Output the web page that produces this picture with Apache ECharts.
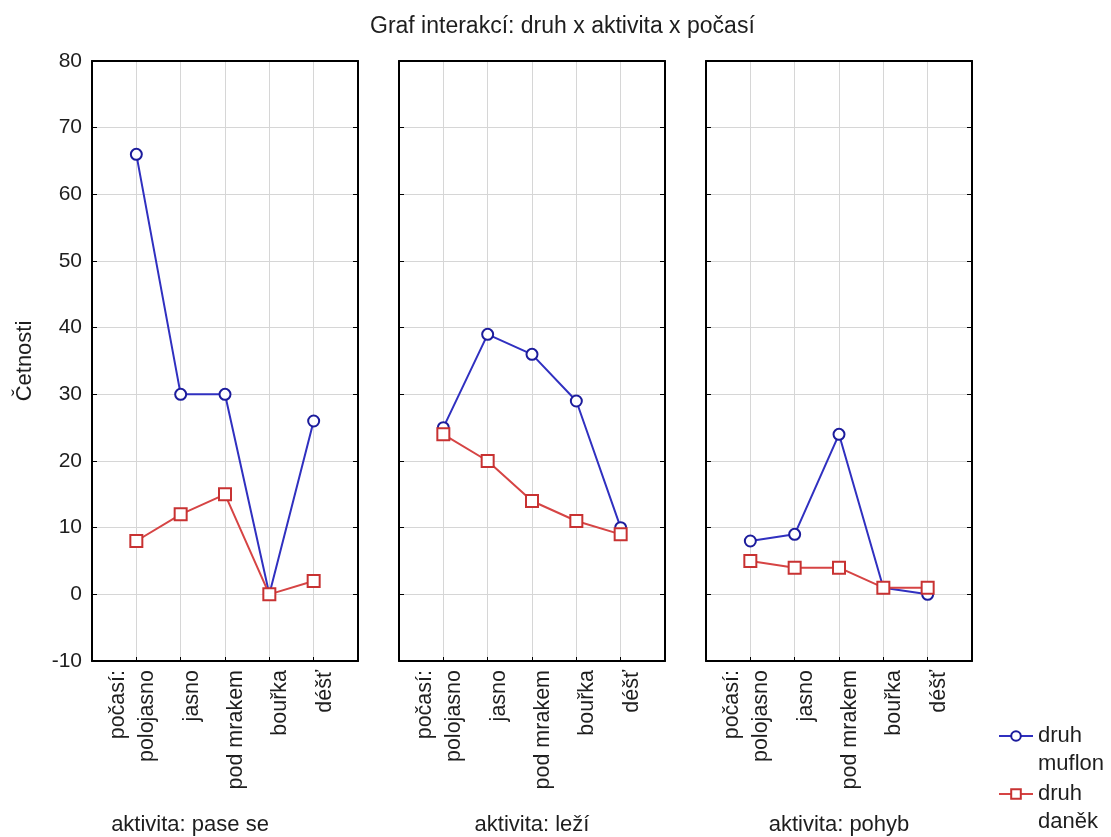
<!DOCTYPE html>
<html>
<head>
<meta charset="utf-8">
<script src="https://cdn.jsdelivr.net/npm/echarts@6/dist/echarts.min.js"></script>
<style>html,body{margin:0;padding:0;background:#fff}#c{width:1111px;height:837px}</style>
</head>
<body>
<div id="c"></div>
<script>
// ---- data ----
const weather = ['polojasno', 'jasno', 'pod mrakem', 'bouřka', 'déšť'];
const activities = ['aktivita: pase se', 'aktivita: leží', 'aktivita: pohyb'];
const speciesNames = ['druh muflon', 'druh daněk'];
const muflonPaseSe = [66, 30, 30, 0, 26];
const danekPaseSe = [8, 12, 15, 0, 2];
const muflonLezi = [25, 39, 36, 29, 10];
const danekLezi = [24, 20, 14, 11, 9];
const muflonPohyb = [8, 9, 24, 1, 0];
const danekPohyb = [5, 4, 4, 1, 1];
const yMin = -10, yMax = 80, yStep = 10;
const titleText = 'Graf interakcí: druh x aktivita x počasí';
const yName = 'Četnosti';
const xLead = 'počasí:';

// ---- layout / style ----
const FONT = '"Liberation Sans", Arial, sans-serif';
const TXT = '#1e1e1e';
const lefts = [92, 399, 706];
const W = 266, TOP = 61, H = 600;
const panelData = [[muflonPaseSe, danekPaseSe], [muflonLezi, danekLezi], [muflonPohyb, danekPohyb]];
const lineColors = ['#3030c0', '#d64444'];
const markColors = ['#1c1c9c', '#c83232'];
const symbols = ['emptyCircle', 'emptyRect'];
const symbolSizes = [11, 12];
const labelCenters = [190, 532, 839];

const border = {show: true, onZero: false, lineStyle: {color: '#000', width: 2}};
const grids = [], xAxes = [], yAxes = [], series = [], graphics = [];
lefts.forEach((l, i) => {
  grids.push({left: l, top: TOP, width: W, height: H, containLabel: false, outerBoundsMode: 'none'});
  xAxes.push({
    gridIndex: i, type: 'value', min: 0, max: 6, interval: 1, position: 'bottom',
    axisLine: border,
    axisTick: {show: true, inside: true, length: 4, lineStyle: {color: '#000', width: 1}},
    axisLabel: {rotate: 90, margin: 9, verticalAlign: 'top', fontSize: 21.5, color: TXT, fontFamily: FONT,
      formatter: v => weather[v - 1] || ''},
    splitLine: {show: true, showMinLine: false, showMaxLine: false, lineStyle: {color: '#d6d6d6', width: 1}}
  });
  xAxes.push({
    gridIndex: i, type: 'value', min: 0, max: 6, interval: 1, position: 'top',
    axisLine: border,
    axisTick: {show: false}, axisLabel: {show: false}, splitLine: {show: false}
  });
  yAxes.push({
    gridIndex: i, type: 'value', min: yMin, max: yMax, interval: yStep, position: 'left',
    name: i === 0 ? yName : '', nameLocation: 'middle', nameGap: 56,
    nameTextStyle: {fontSize: 22, color: TXT, fontFamily: FONT},
    axisLine: border,
    axisTick: {show: true, inside: true, length: 5, lineStyle: {color: '#000', width: 1}},
    axisLabel: {show: i === 0, margin: 10, fontSize: 21, color: TXT, fontFamily: FONT},
    splitLine: {show: true, showMinLine: false, showMaxLine: false, lineStyle: {color: '#d6d6d6', width: 1}}
  });
  yAxes.push({
    gridIndex: i, type: 'value', min: yMin, max: yMax, interval: yStep, position: 'right',
    axisLine: border,
    axisTick: {show: true, inside: true, length: 5, lineStyle: {color: '#000', width: 1}},
    axisLabel: {show: false}, splitLine: {show: false}
  });
  panelData[i].forEach((vals, s) => {
    series.push({
      type: 'line', name: speciesNames[s], xAxisIndex: 2 * i, yAxisIndex: 2 * i,
      data: weather.map((w, k) => [k + 1, vals[k]]),
      symbol: symbols[s], symbolSize: symbolSizes[s],
      itemStyle: {color: markColors[s], borderWidth: 2},
      lineStyle: {color: lineColors[s], width: 2},
      z: 3 + s
    });
  });
  graphics.push({
    type: 'text', x: l + 26, y: 670, rotation: Math.PI / 2,
    style: {text: xLead, align: 'right', verticalAlign: 'middle', fontSize: 21.5, fill: TXT, fontFamily: FONT}
  });
  graphics.push({
    type: 'text', x: labelCenters[i], y: 825,
    style: {text: activities[i], align: 'center', verticalAlign: 'middle', fontSize: 22, fill: TXT, fontFamily: FONT}
  });
});

const chart = echarts.init(document.getElementById('c'), null, {renderer: 'canvas'});
chart.setOption({
  animation: false,
  backgroundColor: '#fff',
  title: {text: titleText, left: 365, top: 10,
    textStyle: {fontSize: 23, fontWeight: 'normal', color: TXT, fontFamily: FONT}},
  legend: {
    orient: 'vertical', left: 998, top: 694, padding: 0, itemGap: -26,
    itemWidth: 34, itemHeight: 12,
    data: speciesNames,
    formatter: n => '\n' + n.split(' ').join('\n'),
    textStyle: {fontSize: 22, lineHeight: 28, color: TXT, fontFamily: FONT}
  },
  grid: grids, xAxis: xAxes, yAxis: yAxes, series: series,
  graphic: graphics
});
</script>
</body>
</html>
